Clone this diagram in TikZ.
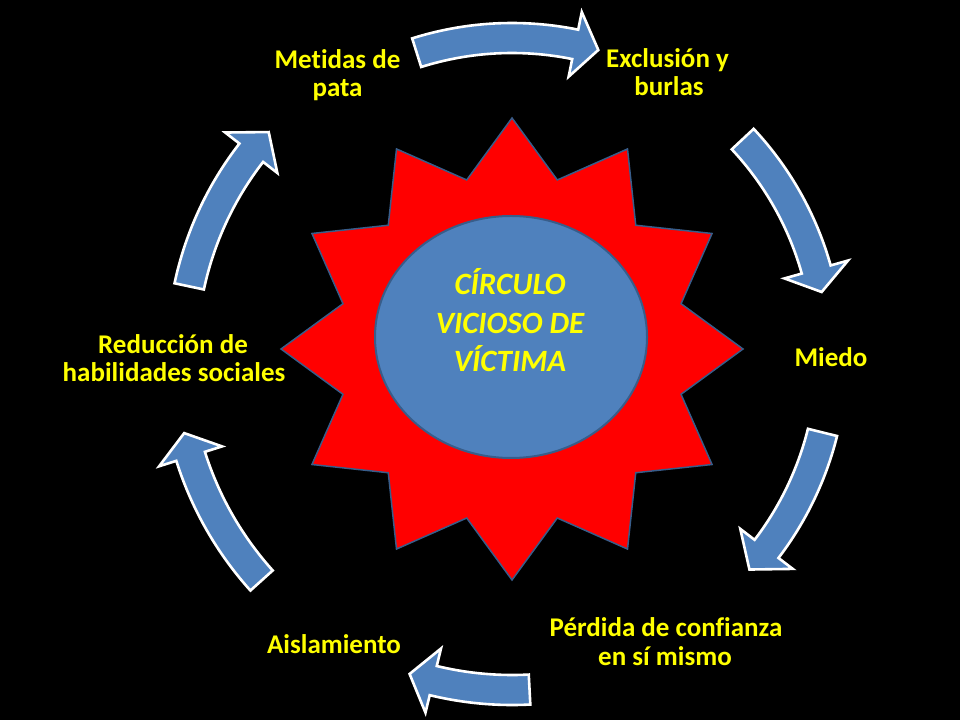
\documentclass[tikz,border=0pt]{standalone}
\usepackage{fontspec}
\setmainfont{Carlito}[Ligatures={NoCommon}]
\usetikzlibrary{calc}
\definecolor{arrowblue}{HTML}{4F81BD}
\definecolor{edgeblue}{HTML}{385D8A}
\definecolor{labelyellow}{HTML}{FFFF00}
\definecolor{starred}{HTML}{FF0000}
\tikzset{
  arrowshape/.style={fill=arrowblue, draw=white, line width=2.6pt, line join=miter},
  labeltext/.style={text=labelyellow, font=\fontsize{27}{28.5}\selectfont\bfseries, anchor=base, inner sep=0pt},
  coretext/.style={text=labelyellow, font=\fontsize{31}{37.5}\selectfont\bfseries\itshape, anchor=base, inner sep=0pt},
}
% #1 radius, #2 tail angle, #3 head-base angle, #4 tip angle
\newcommand{\cycarrow}[4]{%
  \path[arrowshape] (#2:{#1pt+15pt}) arc[start angle=#2, end angle=#3, radius={#1pt+15pt}]
    -- (#3:{#1pt+33pt}) -- (#4:{#1pt}) -- (#3:{#1pt-33pt}) -- (#3:{#1pt-15pt})
    arc[start angle=#3, end angle=#2, radius={#1pt-15pt}] -- cycle;}
\begin{document}
\begin{tikzpicture}[x=1pt,y=1pt]
\fill[black] (0,0) rectangle (960,720);
\useasboundingbox (0,0) rectangle (960,720);

% star
\begin{scope}[shift={(512,371)}]
\draw[fill=starred, draw=edgeblue, line width=1.5pt, line join=miter]
  (90:231) \foreach \k in {0,...,11} { -- ({105+30*\k}:175) -- ({120+30*\k}:231) } -- cycle;
\end{scope}

% central ellipse
\draw[fill=arrowblue, draw=edgeblue, line width=2pt] (511,383) ellipse [x radius=136, y radius=121];
\node[coretext] (coreA) at (510,425) {CÍRCULO};
\node[coretext] (coreB) at (510,386.7) {VICIOSO DE};
\node[coretext] (coreC) at (510,348.3) {VÍCTIMA};

% curved arrows
\begin{scope}[shift={(512,365)}]
\cycarrow{317}{107.5}{78.5}{74.2}
\cycarrow{316}{43.1}{15.7}{11.5}
\cycarrow{320}{-14}{-37.3}{-42.1}
\cycarrow{335}{-87}{-103.6}{-107.8}
\cycarrow{337}{-138}{-162.5}{-166.6}
\cycarrow{330}{168}{142.2}{137.5}
\end{scope}

% labels
\node[labeltext] (metA) at (337.5,651.7) {Metidas de};
\node[labeltext] (metB) at (337.5,623.3) {pata};
\node[labeltext] (excA) at (667.5,652) {Exclusión y};
\node[labeltext] (excB) at (669,624) {burlas};
\node[labeltext] (miedo) at (831,353.5) {Miedo};
\node[labeltext] (perA) at (666,83.3) {Pérdida de confianza};
\node[labeltext] (perB) at (665,55) {en sí mismo};
\node[labeltext] (aisl) at (334,66.7) {Aislamiento};
\node[labeltext] (redA) at (173,366.7) {Reducción de};
\node[labeltext] (redB) at (174,338.3) {habilidades sociales};
\end{tikzpicture}
\end{document}
